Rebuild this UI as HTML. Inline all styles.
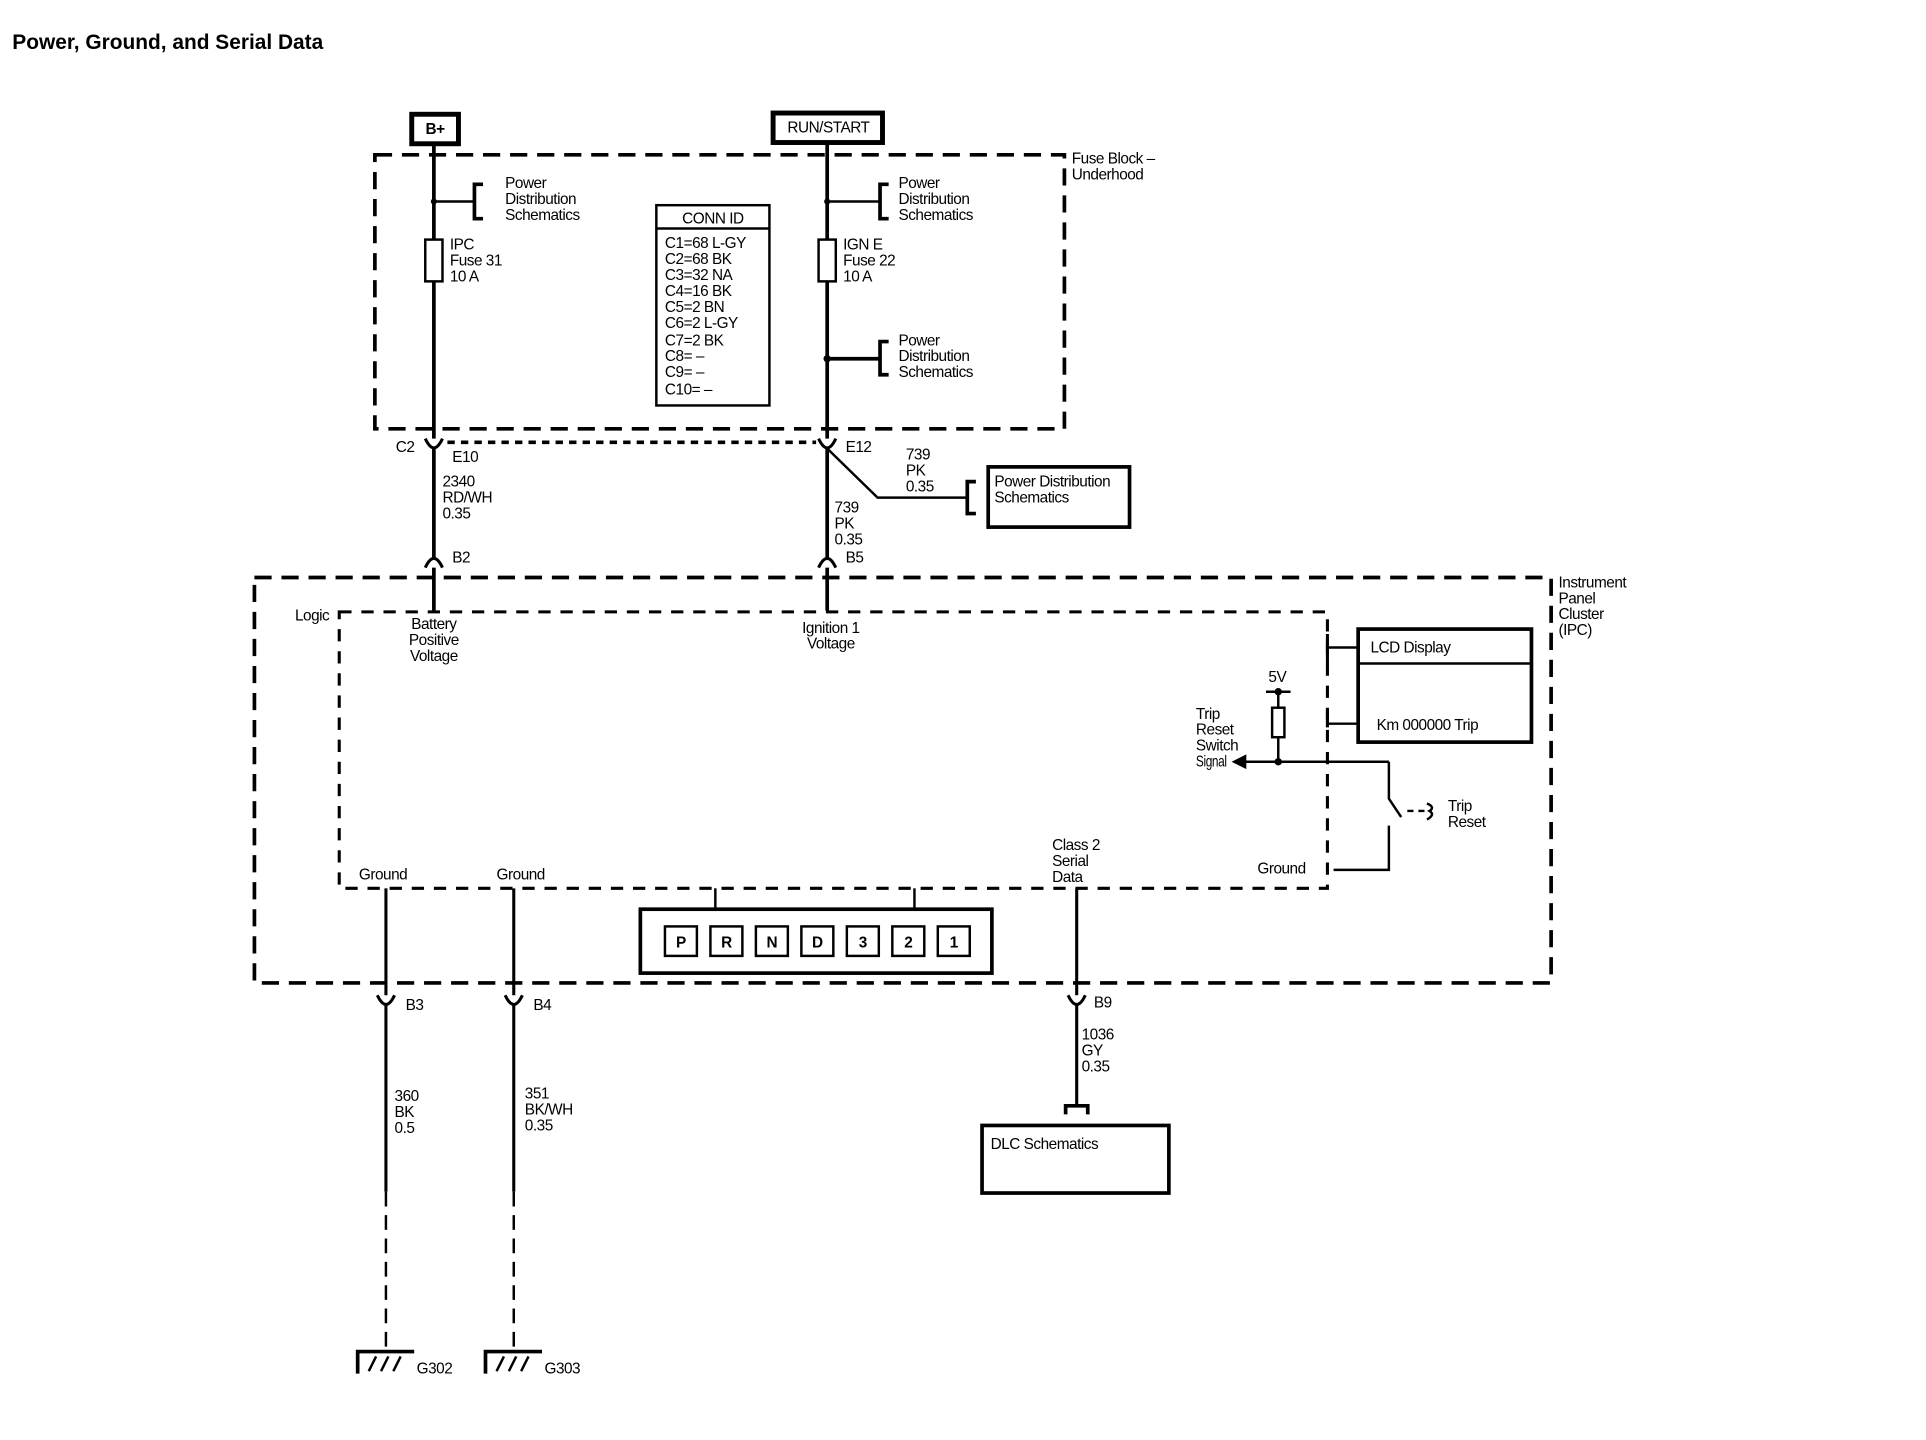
<!DOCTYPE html>
<html><head><meta charset="utf-8"><style>
html,body{margin:0;padding:0;background:#fff;}
svg{display:block;}
text{font-family:"Liberation Sans",sans-serif;font-size:12.5px;fill:#000;letter-spacing:-0.4px;}
</style></head><body>
<svg width="1926" height="1440" viewBox="0 0 1567 1172" preserveAspectRatio="none" xmlns="http://www.w3.org/2000/svg">
<rect width="1567" height="1172" fill="#fff"/>
<text x="10" y="40" style="font-size:17px;font-weight:bold;letter-spacing:0">Power, Ground, and Serial Data</text>
<g fill="none" stroke="#000">
<rect x="335" y="93" width="38" height="24" stroke-width="4"/>
<rect x="629" y="92" width="89" height="24" stroke-width="4"/>
<rect x="305" y="126" width="561" height="223" stroke-width="3" stroke-dasharray="14,8"/>
<line x1="353" y1="117" x2="353" y2="497" stroke-width="3"/>
<line x1="673" y1="116" x2="673" y2="497" stroke-width="3"/>
<rect x="346" y="195" width="14" height="34" stroke-width="2" fill="#fff"/>
<rect x="666" y="195" width="14" height="34" stroke-width="2" fill="#fff"/>
<line x1="353" y1="164" x2="386" y2="164" stroke-width="2"/>
<path d="M393 150 H386 V178 H393" stroke-width="3"/>
<line x1="673" y1="164" x2="716" y2="164" stroke-width="2"/>
<path d="M723 150 H716 V178 H723" stroke-width="3"/>
<line x1="673" y1="292" x2="716" y2="292" stroke-width="3"/>
<path d="M723 278 H716 V305 H723" stroke-width="3"/>
<rect x="534" y="167" width="92" height="163" stroke-width="2"/>
<line x1="534" y1="186" x2="626" y2="186" stroke-width="2"/>
<path d="M346 357 Q353 372 360 357" stroke-width="2.5" fill="#fff"/>
<path d="M666 357 Q673 372 680 357" stroke-width="2.5" fill="#fff"/>
<line x1="364" y1="360" x2="664" y2="360" stroke-width="3" stroke-dasharray="6,5"/>
<path d="M673 365 L714 405 H787" stroke-width="2"/>
<path d="M794 392 H787 V418 H794" stroke-width="3"/>
<rect x="804" y="380" width="115" height="49" stroke-width="3"/>
<path d="M346 462 Q353 447 360 462" stroke-width="2.5" fill="#fff"/>
<path d="M666 462 Q673 447 680 462" stroke-width="2.5" fill="#fff"/>
<rect x="207" y="470" width="1055" height="330" stroke-width="3" stroke-dasharray="14,8"/>
<rect x="276" y="498" width="804" height="225" stroke-width="2.5" stroke-dasharray="10,8"/>
<rect x="1105" y="512" width="141" height="92" stroke-width="3"/>
<line x1="1105" y1="540" x2="1246" y2="540" stroke-width="2"/>
<line x1="1080" y1="527" x2="1105" y2="527" stroke-width="2"/>
<line x1="1080" y1="589" x2="1105" y2="589" stroke-width="2"/>
<line x1="1080" y1="516" x2="1080" y2="540" stroke-width="2.5"/>
<line x1="1080" y1="578" x2="1080" y2="592" stroke-width="2.5"/>
<line x1="1030" y1="563" x2="1050" y2="563" stroke-width="2"/>
<line x1="1040" y1="563" x2="1040" y2="620" stroke-width="2"/>
<rect x="1035" y="576" width="10" height="24" stroke-width="2" fill="#fff"/>
<line x1="1012" y1="620" x2="1130" y2="620" stroke-width="2"/>
<path d="M1130 620 V650 L1140 665" stroke-width="2"/>
<path d="M1145 660 H1160" stroke-width="2" stroke-dasharray="5,4"/>
<path d="M1161 654 Q1168 657 1163 660 Q1168 663 1161 667" stroke-width="2"/>
<path d="M1130 672 V708 H1085" stroke-width="2"/>
<line x1="314" y1="723" x2="314" y2="970" stroke-width="2.5"/>
<line x1="418" y1="723" x2="418" y2="970" stroke-width="2.5"/>
<line x1="314" y1="970" x2="314" y2="1100" stroke-width="2" stroke-dasharray="12,7"/>
<line x1="418" y1="970" x2="418" y2="1100" stroke-width="2" stroke-dasharray="12,7"/>
<line x1="876" y1="723" x2="876" y2="900" stroke-width="2.5"/>
<path d="M867 907 V900 H885 V907" stroke-width="3"/>
<rect x="799" y="916" width="152" height="55" stroke-width="3"/>
<path d="M307 810 Q314 825 321 810" stroke-width="2.5" fill="#fff"/>
<path d="M411 810 Q418 825 425 810" stroke-width="2.5" fill="#fff"/>
<path d="M869 810 Q876 825 883 810" stroke-width="2.5" fill="#fff"/>
<rect x="521" y="740" width="286" height="52" stroke-width="3"/>
<line x1="582" y1="723" x2="582" y2="740" stroke-width="2"/>
<line x1="744" y1="723" x2="744" y2="740" stroke-width="2"/>
<g stroke-width="2">
<rect x="541" y="754" width="26" height="24"/><rect x="578" y="754" width="26" height="24"/>
<rect x="615" y="754" width="26" height="24"/><rect x="652" y="754" width="26" height="24"/>
<rect x="689" y="754" width="26" height="24"/><rect x="726" y="754" width="26" height="24"/>
<rect x="763" y="754" width="26" height="24"/>
</g>
<path d="M291 1118 V1100 H337" stroke-width="3"/>
<path d="M300 1116 L306 1104 M310 1116 L316 1104 M320 1116 L326 1104" stroke-width="2"/>
<path d="M395 1118 V1100 H441" stroke-width="3"/>
<path d="M404 1116 L410 1104 M414 1116 L420 1104 M424 1116 L430 1104" stroke-width="2"/>
</g>
<g fill="#000">
<circle cx="353" cy="164" r="2.5"/><circle cx="673" cy="164" r="2.5"/><circle cx="673" cy="292" r="3"/>
<circle cx="1040" cy="563" r="3"/><circle cx="1040" cy="620" r="3"/>
<path d="M1002 620 L1014 614 L1014 626 Z"/>
</g>
<text x="354" y="109" text-anchor="middle" style="font-weight:bold">B+</text>
<text x="674" y="108" text-anchor="middle">RUN/START</text>
<text x="872" y="133">Fuse Block –</text><text x="872" y="146">Underhood</text>
<text x="411" y="153">Power</text><text x="411" y="166">Distribution</text><text x="411" y="179">Schematics</text>
<text x="731" y="153">Power</text><text x="731" y="166">Distribution</text><text x="731" y="179">Schematics</text>
<text x="731" y="281">Power</text><text x="731" y="294">Distribution</text><text x="731" y="307">Schematics</text>
<text x="366" y="203">IPC</text><text x="366" y="216">Fuse 31</text><text x="366" y="229">10 A</text>
<text x="686" y="203">IGN E</text><text x="686" y="216">Fuse 22</text><text x="686" y="229">10 A</text>
<text x="580" y="182" text-anchor="middle">CONN ID</text>
<text x="541" y="202">C1=68 L-GY</text><text x="541" y="215">C2=68 BK</text><text x="541" y="228">C3=32 NA</text>
<text x="541" y="241">C4=16 BK</text><text x="541" y="254">C5=2 BN</text><text x="541" y="267">C6=2 L-GY</text>
<text x="541" y="281">C7=2 BK</text><text x="541" y="294">C8= –</text><text x="541" y="307">C9= –</text><text x="541" y="321">C10= –</text>
<text x="322" y="368">C2</text><text x="368" y="376">E10</text><text x="688" y="368">E12</text>
<text x="360" y="396">2340</text><text x="360" y="409">RD/WH</text><text x="360" y="422">0.35</text>
<text x="679" y="417">739</text><text x="679" y="430">PK</text><text x="679" y="443">0.35</text>
<text x="737" y="374">739</text><text x="737" y="387">PK</text><text x="737" y="400">0.35</text>
<text x="809" y="396">Power Distribution</text><text x="809" y="409">Schematics</text>
<text x="368" y="458">B2</text><text x="688" y="458">B5</text>
<text x="1268" y="478">Instrument</text><text x="1268" y="491">Panel</text><text x="1268" y="504">Cluster</text><text x="1268" y="517">(IPC)</text>
<text x="240" y="505">Logic</text>
<text x="353" y="512" text-anchor="middle">Battery</text><text x="353" y="525" text-anchor="middle">Positive</text><text x="353" y="538" text-anchor="middle">Voltage</text>
<text x="676" y="515" text-anchor="middle">Ignition 1</text><text x="676" y="528" text-anchor="middle">Voltage</text>
<text x="1115" y="531">LCD Display</text><text x="1120" y="594">Km 000000 Trip</text>
<text x="1032" y="555">5V</text>
<text x="973" y="585">Trip</text><text x="973" y="598">Reset</text><text x="973" y="611">Switch</text><text x="973" y="624" textLength="25" lengthAdjust="spacingAndGlyphs">Signal</text>
<text x="1178" y="660">Trip</text><text x="1178" y="673">Reset</text>
<text x="1023" y="711">Ground</text>
<text x="292" y="716">Ground</text><text x="404" y="716">Ground</text>
<text x="856" y="692">Class 2</text><text x="856" y="705">Serial</text><text x="856" y="718">Data</text>
<g text-anchor="middle" style="font-weight:bold">
<text x="554" y="771">P</text><text x="591" y="771">R</text><text x="628" y="771">N</text><text x="665" y="771">D</text>
<text x="702" y="771">3</text><text x="739" y="771">2</text><text x="776" y="771">1</text></g>
<text x="330" y="822">B3</text><text x="434" y="822">B4</text><text x="890" y="820">B9</text>
<text x="321" y="896">360</text><text x="321" y="909">BK</text><text x="321" y="922">0.5</text>
<text x="427" y="894">351</text><text x="427" y="907">BK/WH</text><text x="427" y="920">0.35</text>
<text x="880" y="846">1036</text><text x="880" y="859">GY</text><text x="880" y="872">0.35</text>
<text x="806" y="935">DLC Schematics</text>
<text x="339" y="1118">G302</text><text x="443" y="1118">G303</text>
</svg>
</body></html>
